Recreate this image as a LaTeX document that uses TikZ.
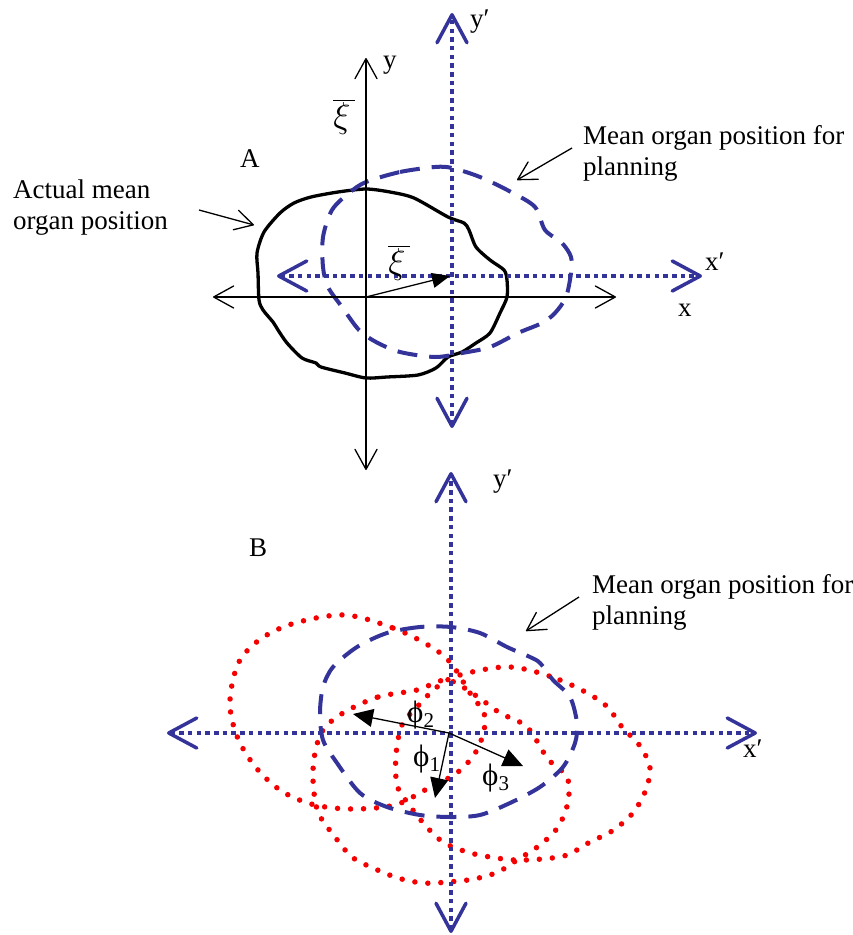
\documentclass[tikz,border=0pt]{standalone}
\usepackage{fontspec}
\usepackage{graphicx}
\setmainfont{Liberation Serif}
\usetikzlibrary{arrows.meta}
\definecolor{navy}{RGB}{51,51,153}
\definecolor{dotred}{RGB}{245,0,0}
\newcommand{\myphi}[1]{{\fontsize{31}{31}\selectfont ϕ}\raisebox{-5pt}{\fontsize{21}{21}\selectfont #1}}
\newcommand{\myxi}{\scalebox{1.45}{$\overline{\xi\mkern2mu}$}}
\begin{document}
\begin{tikzpicture}[x=1pt,y=-1pt,font=\fontsize{27}{31}\selectfont,
  axis/.style={line width=1.3pt,{Straight Barb[length=20pt,width=22pt,round=false]}-{Straight Barb[length=20pt,width=22pt,round=false]}},
  baxis/.style={navy,line width=4pt,dash pattern=on 4.5pt off 4.2pt,{Straight Barb[length=28pt,width=30pt,line width=3.5pt,round=false]}-{Straight Barb[length=28pt,width=30pt,line width=3.5pt,round=false]}},
  pointer/.style={line width=1.3pt,-{Straight Barb[length=18pt,width=20pt,round=false]}},
  dashblue/.style={navy,line width=4pt,dash pattern=on 20pt off 12pt},
  reddot/.style={dotred,line width=5.5pt,line cap=round,dash pattern=on 0pt off 13pt},
  organ/.style={black,line width=3.3pt,line join=round},
  vec/.style={line width=1.3pt,-{Triangle[length=18pt,width=15pt]}},
  phivec/.style={line width=1.3pt,-{Triangle[length=20pt,width=18pt]}},
  lbl/.style={anchor=base west,inner sep=0pt}]
\useasboundingbox (0,0) rectangle (852,935);

% ---------------- Panel A ----------------
\coordinate (xl) at (213,297); \coordinate (xr) at (616,297);
\coordinate (yt) at (366,58);  \coordinate (yb) at (366,470);
\coordinate (o)  at (366,297);
\coordinate (xpl) at (277,276); \coordinate (xpr) at (702,276);
\coordinate (ypt) at (452,13);  \coordinate (ypb) at (452,428);
\coordinate (op) at (450,276);

% actual organ (solid)
\draw[organ] plot[smooth cycle,tension=0.45] coordinates {
 (366,189) (390,192) (414,198) (448,217) (464,223) (469,230) (476,247) (490,260)
 (504,270) (507,280) (507,297) (500,313) (490,333) (476,343) (462,352) (448,357)
 (436,368) (418,375) (387,377) (366,378) (345,373) (321,367) (316,363) (302,358)
 (287,343) (278,330) (273,322) (263,310) (259,300) (258,273) (257,253) (264,232)
 (280,213) (294,203) (311,197) (338,192)};

% planned organ (dashed)
\draw[dashblue] plot[smooth cycle,tension=0.5] coordinates {
 (366,182) (400,172) (435,167) (452,168) (480,177) (511,192) (535,207) (545,230)
 (562,243) (571,257) (571,273) (566,297) (555,313) (542,323) (518,333) (490,347)
 (462,353) (435,357) (400,352) (376,342) (359,330) (342,307) (328,287) (323,267)
 (323,237) (332,210) (349,193)};

\draw[axis] (xl) -- (xr);
\draw[axis] (yb) -- (yt);
\draw[baxis] (xpl) -- (xpr);
\draw[baxis] (ypb) -- (ypt);
\draw[vec] (o) -- (op);

\node[lbl] (ylab) at (383,68) {y};
\node[lbl] (xlab) at (678,316) {x};
\node[lbl] (xplab) at (705,270) {x′};
\node[lbl] (yplab) at (470,27) {y′};
\node[lbl] (Alab) at (240,167) {A};
\node[inner sep=0pt] (xi1) at (344,117) {\myxi};
\node[inner sep=0pt] (xi2) at (399,263) {\myxi};

\node[lbl] (act1) at (13,198) {Actual mean};
\node[lbl] (act2) at (13,229) {organ position};
\coordinate (acts) at (199,210); \coordinate (acte) at (254,225);
\draw[pointer] (acts) -- (acte);

\node[lbl] (mA1) at (583,144) {Mean organ position for};
\node[lbl] (mA2) at (583,175) {planning};
\coordinate (mAs) at (572,148); \coordinate (mAe) at (517,180);
\draw[pointer] (mAs) -- (mAe);

% ---------------- Panel B ----------------
\coordinate (bxl) at (167,733); \coordinate (bxr) at (757,733);
\coordinate (byt) at (451,472); \coordinate (byb) at (451,933);
\coordinate (c) at (449,733);
\coordinate (p1) at (435,798); \coordinate (p2) at (353,714); \coordinate (p3) at (523,766);

% displaced organ positions (red dotted)
\draw[reddot] plot[smooth cycle,tension=0.55] coordinates {
 (345,615) (393,628) (428,645) (450,662) (470,693) (485,717) (478,748) (458,772)
 (425,790) (395,805) (353,809) (315,805) (283,792) (258,770) (240,743) (231,715)
 (231,690) (240,660) (262,638) (295,623)};
\draw[reddot] plot[smooth cycle,tension=0.55] coordinates {
 (343,713) (378,697) (417,690) (447,680) (475,695) (500,713) (527,727) (548,759)
 (567,777) (568,802) (558,827) (540,845) (517,860) (498,872) (474,879) (448,882)
 (423,883) (398,878) (373,868) (352,857) (335,837) (318,812) (313,780) (315,753)
 (323,730)};
\draw[reddot] plot[smooth cycle,tension=0.55] coordinates {
 (510,667) (560,680) (603,703) (622,727) (640,746) (650,768) (645,792) (632,814)
 (612,831) (590,842) (567,855) (542,859) (515,860) (490,857) (467,852) (443,842)
 (425,825) (407,802) (397,785) (396,755) (402,725) (417,707) (437,687) (460,675)};

% planned organ (dashed)
\draw[dashblue] plot[smooth cycle,tension=0.5] coordinates {
 (451,627) (420,627) (387,633) (357,647) (333,667) (323,687) (320,713) (323,740)
 (337,763) (360,793) (387,807) (420,815) (451,817) (480,815) (510,803) (540,787)
 (563,767) (575,743) (577,723) (570,697) (553,680) (540,663) (530,657) (507,647)
 (480,633)};

\draw[baxis] (bxl) -- (bxr);
\draw[baxis] (byb) -- (byt);

\draw[phivec] (c) -- (p1);
\draw[phivec] (c) -- (p2);
\draw[phivec] (c) -- (p3);

\node[lbl] (phi2) at (407,722) {\myphi{2}};
\node[lbl] (phi1) at (413,766) {\myphi{1}};
\node[lbl] (phi3) at (482,785) {\myphi{3}};

\node[lbl] (Blab) at (249,556) {B};
\node[lbl] (byplab) at (493,487) {y′};
\node[lbl] (bxplab) at (743,757) {x′};

\node[lbl] (mB1) at (592,593) {Mean organ position for};
\node[lbl] (mB2) at (592,624) {planning};
\coordinate (mBs) at (579,597); \coordinate (mBe) at (526,631);
\draw[pointer] (mBs) -- (mBe);
\end{tikzpicture}
\end{document}
